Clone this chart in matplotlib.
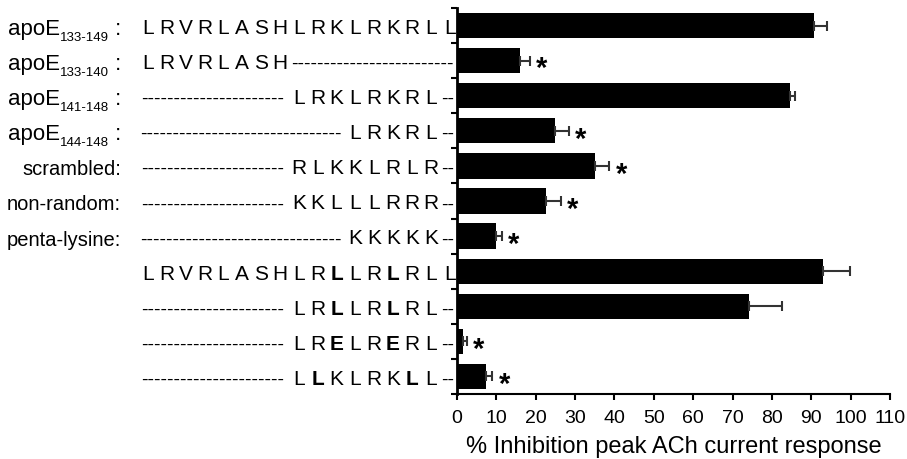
import numpy as np
import matplotlib
matplotlib.use("Agg")
import matplotlib.pyplot as plt

plt.rcParams['font.family'] = ['Liberation Sans', 'DejaVu Sans']

# peptide names (main part, subscript range)
label_main = ["apoE", "apoE", "apoE", "apoE", "scrambled:", "non-random:",
              "penta-lysine:", "", "", "", ""]
label_sub = ["133-149", "133-140", "141-148", "144-148", "", "", "", "", "", "", ""]

# residues 133..149, '-' = not present
seqs = [
    "LRVRLASHLRKLRKRLL",
    "LRVRLASH---------",
    "--------LRKLRKRL-",
    "-----------LRKRL-",
    "--------RLKKLRLR-",
    "--------KKLLLRRR-",
    "-----------KKKKK-",
    "LRVRLASHLRLLRLRLL",
    "--------LRLLRLRL-",
    "--------LRELRERL-",
    "--------LLKLRKLL-",
]
# columns of substituted residues (drawn bold)
bold_cols = [[], [], [], [], [], [], [], [10, 13], [10, 13], [10, 13], [9, 14]]

inhibition = [90.6, 16.0, 84.7, 24.9, 35.1, 22.7, 9.8, 93.0, 74.3, 1.6, 7.3]
sem = [3.3, 2.5, 1.2, 3.6, 3.6, 3.7, 1.6, 6.8, 8.2, 1.0, 1.7]
significant = [False, True, False, True, True, True, True, False, False, True, True]

W, H = 907, 460
fig = plt.figure(figsize=(W / 100, H / 100), dpi=100)
ax_l, ax_r, ax_b, ax_t = 457, 890, 395, 9
ax = fig.add_axes([ax_l / W, (H - ax_b) / H, (ax_r - ax_l) / W, (ax_b - ax_t) / H])
ax_seq = fig.add_axes([0, (H - ax_b) / H, ax_l / W, (ax_b - ax_t) / H])

n = len(inhibition)
y = np.arange(n)

ax.barh(y, inhibition, height=0.72, color='black',
        xerr=[np.zeros(n), sem],
        error_kw=dict(ecolor='#333333', elinewidth=1.5, capsize=3.6, capthick=1.5))

for i in range(n):
    if significant[i]:
        ax.text(inhibition[i] + sem[i] + 3.0, y[i] + 0.45, "*", fontsize=21,
                fontweight='bold', ha='center', va='baseline')

ax.set_xlim(0, 110)
ax.set_ylim(n - 0.5, -0.5)
ax.set_xticks(np.arange(0, 111, 10))
ax.set_yticks(np.arange(-0.5, n, 1))
ax.set_yticklabels([])
ax.tick_params(axis='x', labelsize=14, length=4.5, width=1.5, pad=6.5)
ax.tick_params(axis='y', length=4, width=1.5)
ax.spines['top'].set_visible(False)
ax.spines['right'].set_visible(False)
ax.spines['left'].set_linewidth(2)
ax.spines['bottom'].set_linewidth(1.5)
ax.set_xlabel("% Inhibition peak ACh current response", fontsize=17, labelpad=6)

# left side: names and sequences, in pixel units
ax_seq.set_xlim(0, ax_l)
ax_seq.set_ylim(n - 0.5, -0.5)
ax_seq.axis('off')
renderer = fig.canvas.get_renderer()

col0, pitch = 148.0, 18.85
dash_fs = 14
probe = ax_seq.text(0, 0, "-" * 20, fontsize=dash_fs)
dash_w = probe.get_window_extent(renderer).width / 20
probe.remove()


def place_right(pieces, right, yb):
    # pieces: (text, size, dy) laid out left to right, ending at `right`
    texts = [ax_seq.text(0, yb + dy, s, fontsize=fs, ha='left', va='baseline')
             for s, fs, dy in pieces]
    widths = [t.get_window_extent(renderer).width for t in texts]
    x = right - sum(widths)
    for t, w in zip(texts, widths):
        t.set_x(x)
        x += w


for i in range(n):
    yb = y[i] + 0.24
    if label_sub[i]:
        place_right([(label_main[i], 16, 0), (label_sub[i], 9.5, 0.17),
                     (" :", 16, 0)], 121, yb)
    elif label_main[i]:
        place_right([(label_main[i], 14.5, 0)], 121, yb)

    s = seqs[i]
    yl = y[i] + 0.21
    j = 0
    while j < len(s):
        if s[j] == "-":
            k = j
            while k + 1 < len(s) and s[k + 1] == "-":
                k += 1
            left = col0 + j * pitch - pitch / 2 + 2
            right = col0 + k * pitch + pitch / 2 - 5
            nd = max(2, int(round((right - left) / dash_w)))
            ax_seq.text((left + right) / 2, yl, "-" * nd, fontsize=dash_fs,
                        ha='center', va='baseline')
            j = k + 1
        else:
            ax_seq.text(col0 + j * pitch, yl, s[j], fontsize=15,
                        fontweight='bold' if j in bold_cols[i] else 'normal',
                        ha='center', va='baseline')
            j += 1

fig.savefig("out.png", dpi=100)
